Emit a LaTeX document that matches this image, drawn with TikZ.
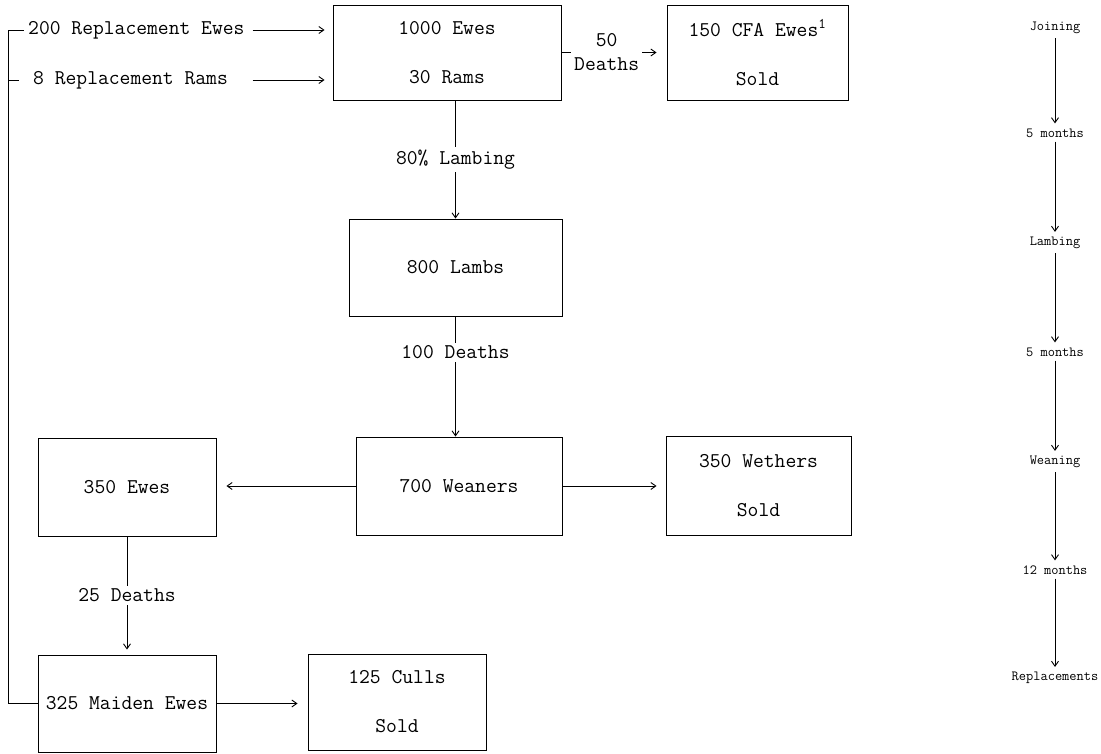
\documentclass[tikz,border=0pt]{standalone}
\usepackage{tikz}
\usetikzlibrary{arrows.meta, calc}
\tikzset{
  box/.style={draw, line width=0.9pt, align=center, inner sep=0pt,
    font=\fontsize{21}{24}\selectfont\ttfamily},
  lbl/.style={fill=white, inner sep=3pt, align=center,
    font=\fontsize{21}{24}\selectfont\ttfamily},
  txt/.style={inner sep=4pt, font=\fontsize{21}{24}\selectfont\ttfamily},
  stage/.style={inner sep=2pt, font=\fontsize{14}{16}\selectfont\ttfamily},
  flow/.style={line width=0.9pt, -{Straight Barb[length=5pt,width=7pt]}},
  link/.style={line width=0.9pt}
}

\begin{document}
\begin{tikzpicture}[x=1pt, y=-1pt]
    \useasboundingbox (0,0) rectangle (1101,754);
    % ── flock boxes
    \node[box, minimum width=228pt, minimum height=95pt] (ewes) at (447,52.5)
      {1000 Ewes\\[25pt]30 Rams};
    \node[box, minimum width=181pt, minimum height=95pt] (cfa) at (757.5,52.5)
      {150 CFA Ewes\textsuperscript{1}\\[25pt]Sold};
    \node[box, minimum width=213pt, minimum height=97pt] (lambs) at (455.5,267.5)
      {800 Lambs};
    \node[box, minimum width=206pt, minimum height=98pt] (weaners) at (459,486)
      {700 Weaners};
    \node[box, minimum width=178pt, minimum height=98pt] (ewelambs) at (127,487)
      {350 Ewes};
    \node[box, minimum width=185pt, minimum height=99pt] (wethers) at (758.5,485.5)
      {350 Wethers\\[25pt]Sold};
    \node[box, minimum width=178pt, minimum height=97pt] (maiden) at (127,703.5)
      {325 Maiden Ewes};
    \node[box, minimum width=178pt, minimum height=96pt] (culls) at (397,702)
      {125 Culls\\[25pt]Sold};
    % ── replacements coming in
    \node[txt, anchor=west] (repewes) at (24,30) {200 Replacement Ewes};
    \node[txt, anchor=west] (reprams) at (29,80) {8 Replacement Rams};
    \coordinate (loop) at (8,30);
    \coordinate (tick) at (19,80);
    \draw[link] (maiden.west) -- (maiden.west -| loop) -- (loop) -- (repewes.west);
    \draw[link] (loop |- tick) -- (tick);
    \draw[flow, shorten >=8pt, shorten <=4pt] (repewes.east) -- (repewes -| ewes.west);
    \draw[flow, shorten >=8pt, shorten <=4pt] (reprams -| repewes.east) -- (reprams -| ewes.west);
    % ── flows between boxes
    \draw[flow, shorten >=10pt] (ewes.east) -- node[lbl, pos=0.43]{50\\Deaths} (cfa.west);
    \draw[flow] (ewes.south -| lambs) -- node[lbl]{80\% Lambing} (lambs.north);
    \draw[flow] (lambs.south) -- node[lbl, pos=0.3]{100 Deaths} (lambs.south |- weaners.north);
    \draw[flow, shorten >=10pt] (weaners.west) -- (weaners.west -| ewelambs.east);
    \draw[flow, shorten >=9pt] (weaners.east) -- (weaners.east -| wethers.west);
    \draw[flow, shorten >=5pt] (ewelambs.south) -- node[lbl]{25 Deaths} (maiden.north);
    \draw[flow, shorten >=10pt] (maiden.east) -- (maiden.east -| culls.west);
    % ── time line
    \node[stage] (s1) at (1055,28) {Joining};
    \node[stage] (s2) at (1055,133) {5 months};
    \node[stage] (s3) at (1055,243) {Lambing};
    \node[stage] (s4) at (1055,352) {5 months};
    \node[stage] (s5) at (1055,462) {Weaning};
    \node[stage] (s6) at (1055,570) {12 months};
    \node[stage] (s7) at (1055,678) {Replacements};
    \foreach \a/\b in {s1/s2, s2/s3, s3/s4, s4/s5, s5/s6, s6/s7}
      \draw[flow, shorten >=3pt, shorten <=2pt] (\a.south) -- (\b.north);
\end{tikzpicture}
\end{document}
